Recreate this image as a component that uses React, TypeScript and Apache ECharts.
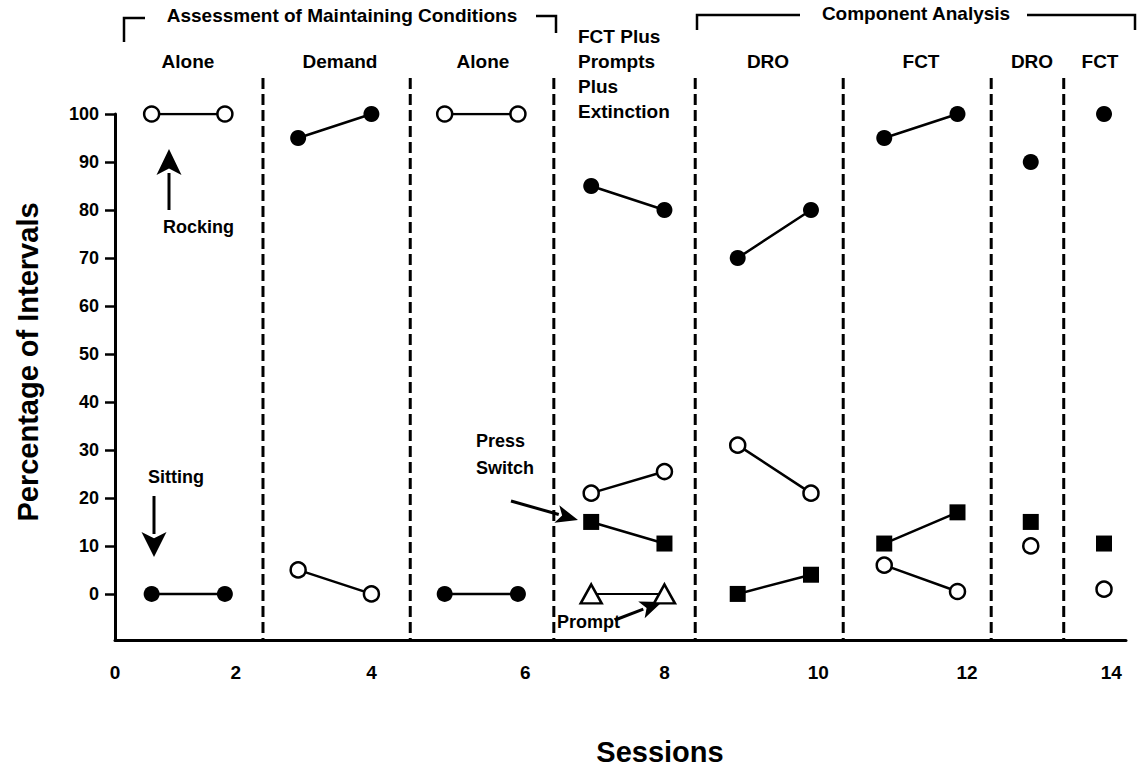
import React, { useEffect, useRef } from "react";
import * as echarts from "echarts";

// ---- data ----
const sessions = [1, 2, 3, 4, 5, 6, 7, 8, 9, 10, 11, 12, 13, 14];
const phaseStarts = [1, 3, 5, 7, 9, 11, 13, 14];
const rocking = [100, 100, 5, 0, 100, 100, 21, 25.5, 31, 21, 6, 0.5, 10, 1];
const sitting = [0, 0, 95, 100, 0, 0, 85, 80, 70, 80, 95, 100, 90, 100];
const pressSwitch = [null, null, null, null, null, null, 15, 10.5, 0, 4, 10.5, 17, 15, 10.5];
const prompt = [null, null, null, null, null, null, 0, 0, null, null, null, null, null, null];
const phaseDividers = [2.52, 4.53, 6.49, 8.42, 10.44, 12.46, 13.45];
const yTicks = [0, 10, 20, 30, 40, 50, 60, 70, 80, 90, 100];
const xTicks = [0.5, 2.15, 4, 6.1, 8, 10.1, 12.13, 14.1];
const xTickLabels = ["0", "2", "4", "6", "8", "10", "12", "14"];
const phaseLabels = ["Alone", "Demand", "Alone", "DRO", "FCT", "DRO", "FCT"];
const phaseLabelX = [188, 340, 483, 768, 921, 1032, 1100];

const FONT = "'Liberation Sans', Arial, Helvetica, sans-serif";

function buildSeriesData(values: (number | null)[]) {
  const out: any[] = [];
  values.forEach((v, i) => {
    const s = sessions[i];
    if (i > 0 && phaseStarts.includes(s)) out.push([s - 0.5, "-"]);
    out.push([s, v == null ? "-" : v]);
  });
  return out;
}

function arrow(x1: number, y1: number, x2: number, y2: number, hl: number, hw: number, lw = 3) {
  const dx = x2 - x1, dy = y2 - y1;
  const len = Math.sqrt(dx * dx + dy * dy);
  const ux = dx / len, uy = dy / len;
  const bx = x2 - ux * hl, by = y2 - uy * hl;
  const px = -uy, py = ux;
  return [
    {
      type: "line",
      shape: { x1, y1, x2: bx + ux * 2, y2: by + uy * 2 },
      style: { stroke: "#000", lineWidth: lw },
    },
    {
      type: "polygon",
      shape: {
        points: [
          [x2, y2],
          [bx + (px * hw) / 2, by + (py * hw) / 2],
          [bx + ux * hl * 0.25, by + uy * hl * 0.25],
          [bx - (px * hw) / 2, by - (py * hw) / 2],
        ],
      },
      style: { fill: "#000" },
    },
  ];
}

function txt(text: string, x: number, y: number, size: number, align = "center", extra: any = {}) {
  return {
    type: "text",
    x,
    y,
    style: {
      text,
      fill: "#000",
      font: `bold ${size}px ${FONT}`,
      align,
      verticalAlign: "middle",
      ...extra,
    },
  };
}

export default function App() {
  const ref = useRef<HTMLDivElement>(null);

  useEffect(() => {
    document.body.style.margin = "0";
    const chart = echarts.init(ref.current!, null, { renderer: "svg" });
    const lineBase = { type: "line", showSymbol: true, showAllSymbol: true, connectNulls: false };
    const option: any = {
      animation: false,
      backgroundColor: "#fff",
      grid: { left: 115, right: 21, top: 114, bottom: 130 },
      xAxis: {
        type: "value",
        min: 0.5,
        max: 14.3,
        axisLine: { onZero: false, lineStyle: { color: "#000", width: 3 } },
        axisTick: { show: false },
        splitLine: { show: false },
        axisLabel: {
          customValues: xTicks,
          formatter: (v: number) => {
            let best = 0;
            xTicks.forEach((t, i) => {
              if (Math.abs(t - v) < Math.abs(xTicks[best] - v)) best = i;
            });
            return xTickLabels[best];
          },
          margin: 23,
          color: "#000",
          fontSize: 19,
          fontWeight: "bold",
          fontFamily: FONT,
        },
      },
      yAxis: {
        type: "value",
        min: -9.6,
        max: 100,
        axisLine: { show: true, onZero: false, lineStyle: { color: "#000", width: 3 } },
        axisTick: { show: true, customValues: yTicks, length: 10, lineStyle: { color: "#000", width: 2.5 } },
        splitLine: { show: false },
        axisLabel: {
          customValues: yTicks,
          margin: 16,
          color: "#000",
          fontSize: 18,
          fontWeight: "bold",
          fontFamily: FONT,
        },
      },
      series: [
        {
          ...lineBase,
          name: "Rocking",
          data: buildSeriesData(rocking),
          symbol: "circle",
          symbolSize: 15,
          itemStyle: { color: "#fff", borderColor: "#000", borderWidth: 2.5 },
          lineStyle: { color: "#000", width: 2.5 },
        },
        {
          ...lineBase,
          name: "Sitting",
          data: buildSeriesData(sitting),
          symbol: "circle",
          symbolSize: 16,
          itemStyle: { color: "#000" },
          lineStyle: { color: "#000", width: 2.5 },
        },
        {
          ...lineBase,
          name: "Press Switch",
          data: buildSeriesData(pressSwitch),
          symbol: "rect",
          symbolSize: 16,
          itemStyle: { color: "#000" },
          lineStyle: { color: "#000", width: 2.5 },
        },
        {
          ...lineBase,
          name: "Prompt",
          data: buildSeriesData(prompt),
          symbol: "triangle",
          symbolSize: [21, 19],
          itemStyle: { color: "#fff", borderColor: "#000", borderWidth: 2.5 },
          lineStyle: { color: "#000", width: 2 },
        },
      ],
    };
    chart.setOption(option);

    const gridBottom = 640;
    const dividerTop = 78;
    const graphics: any[] = [];
    phaseDividers.forEach((d) => {
      const p = chart.convertToPixel({ gridIndex: 0 }, [d, 0]) as number[];
      graphics.push({
        type: "line",
        shape: { x1: p[0], y1: dividerTop, x2: p[0], y2: gridBottom },
        style: { stroke: "#000", lineWidth: 3, lineDash: [11, 5] },
      });
    });
    // brackets
    const br = (pts: number[][]) => ({
      type: "polyline",
      shape: { points: pts },
      style: { stroke: "#000", lineWidth: 2.5, fill: null },
    });
    graphics.push(br([[124, 42], [124, 18], [145, 18]]));
    graphics.push(br([[536, 16], [556, 16], [556, 33]]));
    graphics.push(br([[697, 30], [697, 15], [800, 15]]));
    graphics.push(br([[1027, 15], [1135, 15], [1135, 30]]));
    graphics.push(txt("Assessment of Maintaining Conditions", 342, 15, 19));
    graphics.push(txt("Component Analysis", 916, 13, 19));
    phaseLabels.forEach((t, i) => graphics.push(txt(t, phaseLabelX[i], 61, 19)));
    graphics.push(
      txt("FCT Plus\nPrompts\nPlus\nExtinction", 578, 24, 19, "left", { verticalAlign: "top", lineHeight: 25 })
    );
    // annotations
    graphics.push(txt("Rocking", 163, 227, 18, "left"));
    graphics.push(...arrow(169, 210, 169, 149, 26, 25));
    graphics.push(txt("Sitting", 148, 477, 18, "left"));
    graphics.push(...arrow(154, 496, 154, 557, 25, 25));
    graphics.push(txt("Press", 476, 441, 18, "left"));
    graphics.push(txt("Switch", 476, 468, 18, "left"));
    graphics.push(...arrow(511, 501, 578, 520, 22, 18));
    graphics.push(txt("Prompt", 557, 622, 18, "left"));
    graphics.push(...arrow(615, 620, 662, 602, 22, 18));
    // axis titles
    const yTitle: any = txt("Percentage of Intervals", 28, 362, 29, "center");
    yTitle.rotation = Math.PI / 2;
    graphics.push(yTitle);
    graphics.push(txt("Sessions", 660, 752, 29));
    chart.setOption({ graphic: graphics });

    return () => chart.dispose();
  }, []);

  return <div ref={ref} style={{ position: "fixed", left: 0, top: 0, width: 1147, height: 770 }} />;
}
